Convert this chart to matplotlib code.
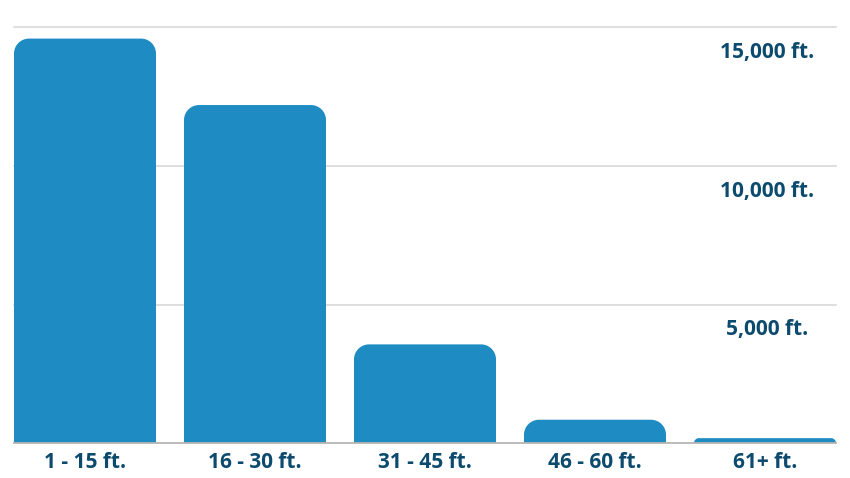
import matplotlib
matplotlib.use("Agg")
import matplotlib.pyplot as plt
from matplotlib.path import Path
from matplotlib.patches import PathPatch
from matplotlib.transforms import offset_copy

categories = ["1 - 15 ft.", "16 - 30 ft.", "31 - 45 ft.", "46 - 60 ft.", "61+ ft."]
values = [14600, 12200, 3560, 840, 175]
ytick_values = [5000, 10000, 15000]
ytick_labels = ["5,000 ft.", "10,000 ft.", "15,000 ft."]

BAR_COLOR = "#1e8bc2"
TEXT_COLOR = "#0c4a6e"
W, H, DPI = 850, 478, 100

fig = plt.figure(figsize=(W / DPI, H / DPI), dpi=DPI)
ax = fig.add_axes([14 / W, 1 - 443 / H, 822 / W, (443 - 27.5) / H])
ax.set_xlim(-0.5 + 14 / 170, len(categories) - 0.5 - 14 / 170)
ax.set_ylim(0, 15000)
ax.axis("off")

bar_w = 142 / 170
px_x = (ax.get_xlim()[1] - ax.get_xlim()[0]) / 822
px_y = 15000 / (443 - 27.5)
r_px = 15

for i, v in enumerate(values):
    x0, x1 = i - bar_w / 2, i + bar_w / 2
    h_px = v / px_y
    r = min(r_px, h_px)
    rx, ry = r * px_x, r * px_y
    k = 0.5523
    verts = [(x0, 0), (x0, v - ry),
             (x0, v - ry + k * ry), (x0 + rx - k * rx, v), (x0 + rx, v),
             (x1 - rx, v),
             (x1 - rx + k * rx, v), (x1, v - ry + k * ry), (x1, v - ry),
             (x1, 0), (x0, 0)]
    codes = [Path.MOVETO, Path.LINETO,
             Path.CURVE4, Path.CURVE4, Path.CURVE4,
             Path.LINETO,
             Path.CURVE4, Path.CURVE4, Path.CURVE4,
             Path.LINETO, Path.CLOSEPOLY]
    ax.add_patch(PathPatch(Path(verts, codes), facecolor=BAR_COLOR, edgecolor="none", zorder=2))

for yv in ytick_values:
    ax.axhline(yv, color="#dcdcdc", lw=1.3, zorder=1, clip_on=False)
ax.axhline(0, color="#b5b5b5", lw=1.3, zorder=3, clip_on=False)

font = ["Open Sans", "DejaVu Sans"]
xlab_tr = offset_copy(ax.transData, fig=fig, x=0, y=-19, units="dots")
for i, c in enumerate(categories):
    ax.text(i, 0, c, transform=xlab_tr, ha="center", va="center", fontsize=15,
            fontweight="bold", color=TEXT_COLOR, family=font, clip_on=False)

x_lab = (767 - 14) / 822 * (ax.get_xlim()[1] - ax.get_xlim()[0]) + ax.get_xlim()[0]
ylab_tr = offset_copy(ax.transData, fig=fig, x=0, y=-25, units="dots")
for yv, lab in zip(ytick_values, ytick_labels):
    ax.text(x_lab, yv, lab, transform=ylab_tr, ha="center", va="center", fontsize=15,
            fontweight="bold", color=TEXT_COLOR, family=font, zorder=4)

fig.savefig("out.png", dpi=DPI, facecolor="white")
